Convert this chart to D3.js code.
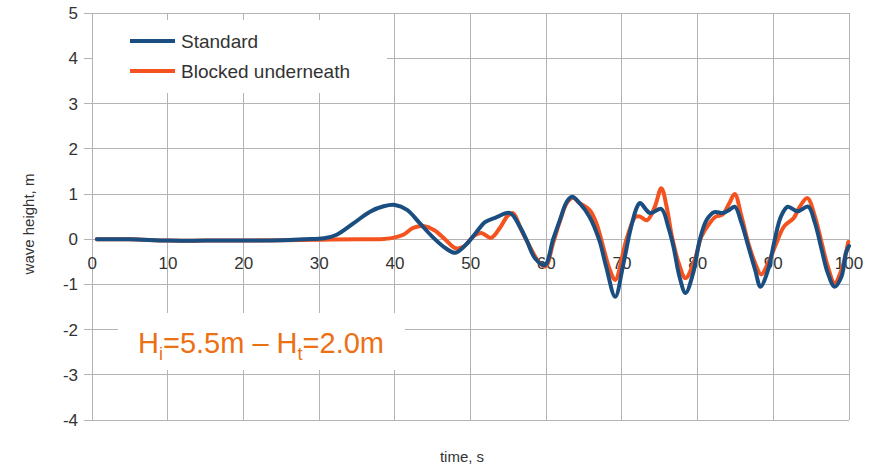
<!DOCTYPE html>
<html>
<head>
<meta charset="utf-8">
<script src="https://cdn.jsdelivr.net/npm/d3@7"></script>
<style>
  html, body { margin: 0; padding: 0; background: #fff; }
  svg text { font-family: "Liberation Sans", Arial, sans-serif; fill: #333; }
</style>
</head>
<body>
<svg id="chart" width="870" height="466"></svg>
<script>
// tick values
const xTicks = [0, 10, 20, 30, 40, 50, 60, 70, 80, 90, 100];
const yTicks = [-4, -3, -2, -1, 0, 1, 2, 3, 4, 5];

// Standard
const stdTime = [0.6, 5, 10, 15, 20, 25, 28, 30.6, 32.3, 34.5, 36.7, 38.5, 40, 41.6, 43.3, 45.1, 46.7, 48,
  49.5, 50.6, 51.9, 53.3, 55.2, 56.5, 57.4, 58.5, 59.8, 60.9, 61.8, 62.7, 63.4, 64.4, 65.7, 67, 67.9, 69.1,
  70.2, 71.1, 72, 72.4, 73.7, 75.2, 76.1, 76.8, 77.6, 78.4, 79.4, 80.3, 81.2, 82.2, 83.3, 84.2, 84.9,
  85.8, 86.7, 87.6, 88.3, 89.3, 90.2, 91, 91.9, 93.2, 94.6, 95.5, 96.4, 97.2, 98.1, 99, 99.6, 100];
const stdWave = [0, 0, -0.03, -0.03, -0.03, -0.02, 0, 0.02, 0.1, 0.35, 0.61, 0.73, 0.76, 0.65, 0.35, 0.03, -0.2, -0.3,
  -0.1, 0.12, 0.38, 0.48, 0.58, 0.28, -0.02, -0.42, -0.57, 0, 0.43, 0.83, 0.94, 0.8, 0.5, -0.02, -0.6, -1.27,
  -0.53, 0.2, 0.72, 0.8, 0.58, 0.67, 0.28, -0.16, -0.83, -1.19, -0.75, 0, 0.43, 0.6, 0.58, 0.65, 0.72,
  0.36, -0.16, -0.68, -1.05, -0.68, 0, 0.5, 0.72, 0.62, 0.72, 0.36, -0.24, -0.75, -1.05, -0.83, -0.3, -0.15];

// Blocked underneath
const blkTime = [0.6, 5, 10, 15, 20, 25, 30, 35, 38, 39.7, 41.1, 42.4, 43.9, 45.2, 46.6, 48, 49.1, 50.4,
  51.4, 52.7, 53.9, 54.9, 55.6, 56.7, 57.8, 59, 59.9, 60.9, 61.8, 62.7, 63.5, 64.4, 65.7, 66.6, 67.5, 68.4,
  69.1, 70.6, 71.8, 72.4, 73.3, 74.3, 75.2, 75.9, 76.6, 77.5, 78.4, 79.6, 80.5, 81.6, 82.4, 83.3, 84.2,
  84.9, 85.8, 86.7, 87.6, 88.4, 89.3, 90.4, 91.4, 92.7, 93.5, 94.5, 95.5, 96.4, 97.2, 98.1, 99, 99.9];
const blkWave = [0, 0, -0.03, -0.03, -0.03, -0.02, -0.01, 0, 0, 0.03, 0.1, 0.25, 0.29, 0.2, 0, -0.2, -0.16, 0.07,
  0.14, 0.03, 0.26, 0.52, 0.58, 0.2, -0.16, -0.5, -0.6, -0.08, 0.4, 0.8, 0.92, 0.8, 0.65, 0.36, -0.16, -0.68,
  -0.9, 0, 0.5, 0.5, 0.42, 0.7, 1.13, 0.72, 0.06, -0.53, -0.86, -0.46, 0.06, 0.36, 0.5, 0.55, 0.8,
  1.0, 0.5, -0.09, -0.53, -0.78, -0.53, -0.09, 0.28, 0.47, 0.72, 0.91, 0.5, -0.09, -0.6, -0.97, -0.68, -0.06];

const seriesNames = ['Standard', 'Blocked underneath'];
const seriesColors = ['#1b4e80', '#f4531f'];

const svg = d3.select('#chart');
const x = d3.scaleLinear().domain([0, 100]).range([92.3, 849]);
const y = d3.scaleLinear().domain([-4, 5]).range([420, 13.3]);

// grid
const grid = svg.append('g').attr('stroke', '#b3b3b3').attr('stroke-width', 1).attr('shape-rendering', 'crispEdges');
grid.selectAll('line.v').data(xTicks).join('line')
  .attr('x1', d => x(d)).attr('x2', d => x(d))
  .attr('y1', y(5)).attr('y2', y(-4));
grid.selectAll('line.h').data(yTicks).join('line')
  .attr('x1', x(0) - 8).attr('x2', x(100))
  .attr('y1', d => y(d)).attr('y2', d => y(d));

// y tick labels
svg.append('g').selectAll('text').data(yTicks).join('text')
  .attr('x', 78).attr('y', d => y(d)).attr('dy', '0.35em')
  .attr('text-anchor', 'end').attr('font-size', 17)
  .text(d => d);

// x tick labels, sitting under the zero line
svg.append('g').selectAll('text').data(xTicks).join('text')
  .attr('x', d => x(d)).attr('y', y(0) + 30)
  .attr('text-anchor', 'middle').attr('font-size', 17)
  .text(d => d);

// annotation box
const ann = svg.append('g');
ann.append('rect').attr('x', 118).attr('y', 313).attr('width', 287).attr('height', 57).attr('fill', '#fff');
const annText = ann.append('text').attr('x', 138).attr('y', 353)
  .attr('font-size', 29).style('fill', '#ec7014');
annText.append('tspan').text('H');
annText.append('tspan').attr('font-size', 18).attr('dy', 7).text('i');
annText.append('tspan').attr('dy', -7).text('=5.5m \u2013 H');
annText.append('tspan').attr('font-size', 18).attr('dy', 7).text('t');
annText.append('tspan').attr('dy', -7).text('=2.0m');

// curves
const line = d3.line().x(d => x(d[0])).y(d => y(d[1])).curve(d3.curveCatmullRom.alpha(0.5));
const blk = d3.zip(blkTime, blkWave);
const std = d3.zip(stdTime, stdWave);
svg.append('path').datum(blk).attr('d', line)
  .attr('fill', 'none').attr('stroke', seriesColors[1]).attr('stroke-width', 4)
  .attr('stroke-linejoin', 'round').attr('stroke-linecap', 'round');
svg.append('path').datum(std).attr('d', line)
  .attr('fill', 'none').attr('stroke', seriesColors[0]).attr('stroke-width', 4)
  .attr('stroke-linejoin', 'round').attr('stroke-linecap', 'round');

// legend
const legend = svg.append('g');
legend.append('rect').attr('x', 93).attr('y', 20).attr('width', 294).attr('height', 73).attr('fill', '#fff');
seriesNames.forEach((name, i) => {
  const ly = 41 + i * 30;
  legend.append('line').attr('x1', 130).attr('x2', 175).attr('y1', ly).attr('y2', ly)
    .attr('stroke', seriesColors[i]).attr('stroke-width', 4);
  legend.append('text').attr('x', 181).attr('y', ly).attr('dy', '0.35em')
    .attr('font-size', 19).text(name);
});

// axis titles
svg.append('text').attr('x', 462).attr('y', 462).attr('text-anchor', 'middle')
  .attr('font-size', 15).text('time, s');
svg.append('text').attr('transform', 'translate(34,224) rotate(-90)')
  .attr('text-anchor', 'middle').attr('font-size', 15).text('wave height, m');
</script>
</body>
</html>
